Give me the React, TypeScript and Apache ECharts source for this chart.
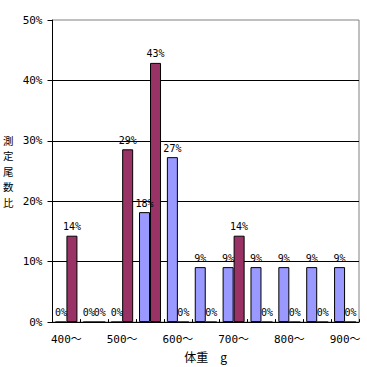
import React, { useEffect, useRef } from "react";
import * as echarts from "echarts";

const categories = ["400～", "450～", "500～", "550～", "600～", "650～", "700～", "750～", "800～", "850～", "900～"];
const blueValues = [0, 0, 0, 18.2, 27.3, 9.1, 9.1, 9.1, 9.1, 9.1, 9.1];
const maroonValues = [14.3, 0, 28.6, 42.9, 0, 0, 14.3, 0, 0, 0, 0];
const yTicks = [0, 10, 20, 30, 40, 50];

const FONT = "'Noto Sans CJK JP', sans-serif";
const NUMFONT = "'DejaVu Sans Mono', 'Noto Sans CJK JP', monospace";

export default function App() {
  const ref = useRef<HTMLDivElement>(null);
  useEffect(() => {
    if (!ref.current) return;
    const chart = echarts.init(ref.current, null, { renderer: "svg" });
    const labelCfg = {
      show: true,
      position: "top",
      distance: 4,
      color: "#000",
      fontSize: 10,
      fontFamily: NUMFONT,
      formatter: (p: any) => Math.round(p.value) + "%",
    };
    chart.setOption({
      animation: false,
      backgroundColor: "#fff",
      grid: {
        left: 52,
        right: 8,
        top: 20,
        bottom: 44,
        show: true,
        borderColor: "#808080",
        borderWidth: 1,
      },
      xAxis: {
        type: "category",
        data: categories,
        name: "体重　g",
        nameLocation: "middle",
        nameGap: 24,
        nameTextStyle: { color: "#000", fontSize: 12, fontFamily: FONT },
        axisLine: { lineStyle: { color: "#000", width: 1 } },
        axisTick: { show: true, inside: true, length: 3, interval: 0, lineStyle: { color: "#000" } },
        axisLabel: { interval: 1, color: "#000", fontSize: 11, fontFamily: NUMFONT, margin: 12 },
        splitLine: { show: false },
      },
      yAxis: {
        type: "value",
        min: yTicks[0],
        max: yTicks[yTicks.length - 1],
        interval: 10,
        name: "測\n定\n尾\n数\n比",
        nameLocation: "middle",
        nameRotate: 0,
        nameGap: 39,
        nameTextStyle: { color: "#000", fontSize: 10.5, lineHeight: 15.5, fontFamily: FONT },
        axisLine: { show: true, lineStyle: { color: "#000", width: 1 } },
        axisTick: { show: true, length: 5, lineStyle: { color: "#000" } },
        axisLabel: {
          color: "#000",
          fontSize: 11,
          fontFamily: NUMFONT,
          margin: 10,
          formatter: (v: number) => v + "%",
        },
        splitLine: {
          show: true,
          lineStyle: { color: "#000", width: 1 },
          showMaxLine: false,
        },
      },
      series: [
        {
          type: "bar",
          data: blueValues,
          barWidth: 11,
          barGap: "0%",
          itemStyle: { color: "#9999FF", borderColor: "#000", borderWidth: 1 },
          label: labelCfg,
        },
        {
          type: "bar",
          data: maroonValues,
          barWidth: 11,
          barGap: "0%",
          itemStyle: { color: "#993366", borderColor: "#000", borderWidth: 1 },
          label: labelCfg,
        },
      ],
    });
    return () => chart.dispose();
  }, []);
  return <div ref={ref} style={{ width: 367, height: 367, position: "absolute", left: 0, top: 0 }} />;
}
